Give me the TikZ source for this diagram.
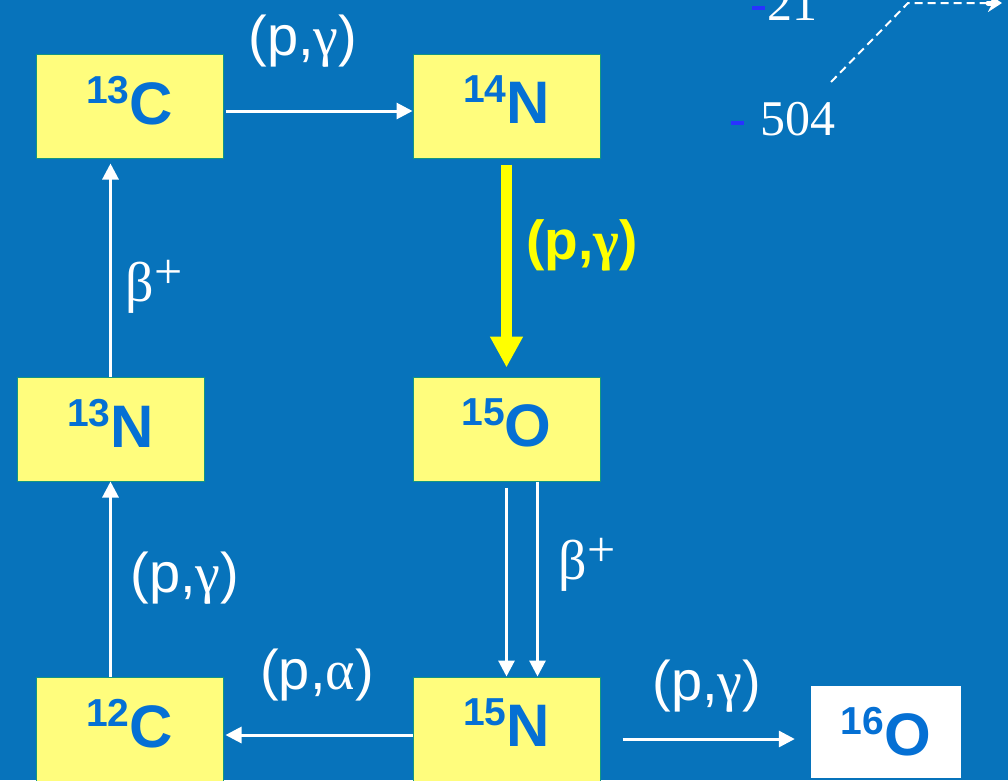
\documentclass[tikz,border=0pt]{standalone}
\usepackage{fontspec}
\setmainfont{Liberation Sans}
\newfontfamily\serifgr{Liberation Serif}
\usetikzlibrary{arrows.meta}
\definecolor{bgblue}{RGB}{7,115,187}
\definecolor{boxyellow}{RGB}{255,253,125}
\definecolor{nucblue}{RGB}{5,112,212}
\definecolor{boxedge}{RGB}{20,150,130}
\definecolor{tickblue}{RGB}{40,50,255}
\definecolor{arryellow}{RGB}{255,255,0}
\newcommand{\nuc}[2]{\raisebox{21pt}{\fontsize{39}{39}\selectfont\bfseries #1}{\fontsize{60}{60}\selectfont\bfseries #2}}
\newcommand{\betaplus}{{\serifgr β\kern1pt\raisebox{13pt}{\fontsize{50}{50}\selectfont +}}}
\begin{document}
\begin{tikzpicture}[x=1pt,y=-1pt,
  nucbox/.style={draw=boxedge, line width=1pt, fill=boxyellow, minimum width=187pt,
    minimum height=104pt, inner sep=0pt, text=nucblue, text depth=12pt},
  endbox/.style={fill=white, minimum width=150pt, minimum height=92pt, inner sep=0pt, text=nucblue},
  warr/.style={draw=white, line width=3pt, -{Triangle[length=16pt,width=16pt]}},
  yarr/.style={draw=arryellow, line width=11pt, -{Triangle[length=31pt,width=31pt]}},
  lab/.style={text=white, inner sep=0pt, font=\fontsize{56}{56}\selectfont},
  ylab/.style={text=arryellow, inner sep=0pt, font=\fontsize{55}{55}\selectfont\bfseries},
  numlab/.style={text=white, inner sep=0pt, anchor=base west, font=\serifgr\fontsize{50}{50}\selectfont},
  dashline/.style={draw=white, line width=2pt, dash pattern=on 8pt off 5pt}
]
\useasboundingbox (0,0) rectangle (1008,780);
\fill[bgblue] (0,0) rectangle (1008,780);

% nuclei
\node[nucbox] (c13) at (129.5,106) {\nuc{13}{C}};
\node[nucbox] (n14) at (506.5,106) {\nuc{14}{N}};
\node[nucbox] (n13) at (110.5,429) {\nuc{13}{N}};
\node[nucbox] (o15) at (506.5,429) {\nuc{15}{O}};
\node[nucbox] (c12) at (129.5,729) {\nuc{12}{C}};
\node[nucbox] (n15) at (506.5,729) {\nuc{15}{N}};
\node[endbox] (o16) at (886,732) {\nuc{16}{O}};

% connectors
\draw[warr, shorten <=2pt] ([yshift=-5pt]c13.east) -- ([yshift=-5pt]n14.west);
\draw[yarr] ([yshift=-6pt]n14.south) -- ([yshift=9pt]o15.north);
\draw[warr, shorten <=6pt] (o15.south) -- (n15.north);
\draw[warr] ([xshift=31pt]o15.south) -- ([xshift=31pt]n15.north);
\draw[warr, shorten >=2pt] ([yshift=-6pt]n15.west) -- ([yshift=-6pt]c12.east);
\draw[warr] (c12.north -| n13.south) -- (n13.south);
\draw[warr, shorten >=5pt] (n13.north) -- (n13.north |- c13.south);
\coordinate (p1) at ([yshift=-10pt]n15.east);
\draw[warr, shorten <=22pt, shorten >=16pt] (p1) -- (p1 -| o16.west);

% reaction labels
\node[lab] (l1) at (303,41) {(p,{\serifgr γ})};
\node[ylab] (l2) at (582,245) {(p,{\serifgr γ})};
\node[lab] (l3) at (587,565) {\betaplus};
\node[lab] (l4) at (317,675) {(p,{\serifgr α})};
\node[lab] (l5) at (185,578) {(p,{\serifgr γ})};
\node[lab] (l6) at (154,287) {\betaplus};
\node[lab] (l7) at (707,686) {(p,{\serifgr γ})};

% level scheme fragment (top right)
\fill[tickblue] (731,121) rectangle (744,125);
\fill[tickblue] (752,6) rectangle (765,10);
\node[numlab] (e504) at (760,135) {504};
\node[numlab] (e21) at (767,20) {21};
\coordinate (d1) at (831,82);
\coordinate (d2) at (908,3);
\coordinate (d3) at (1002,3);
\draw[dashline] (d1) -- (d2) -- ([xshift=-8pt]d3);
\draw[white, line width=5pt, line cap=round, -{Stealth[length=14pt,width=18pt]}] ([xshift=-14pt]d3) -- (d3);
\end{tikzpicture}
\end{document}
